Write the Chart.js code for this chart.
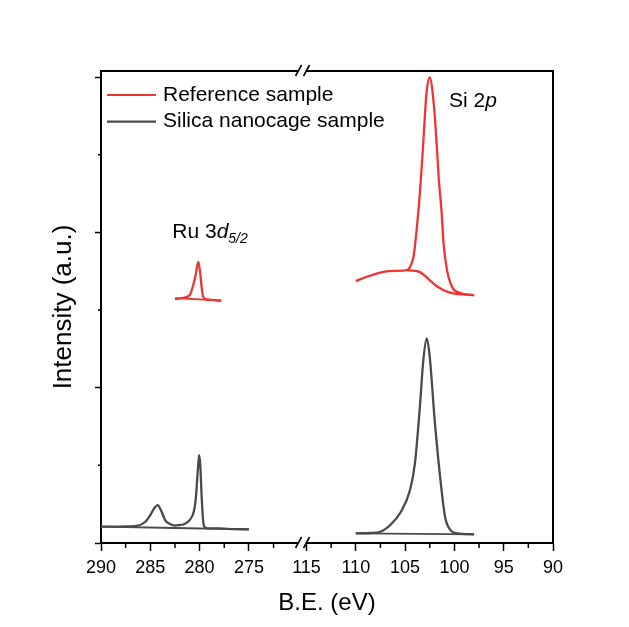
<!DOCTYPE html>
<html>
<head>
<meta charset="utf-8">
<script src="https://cdn.jsdelivr.net/npm/chart.js@4.4.1/dist/chart.umd.min.js"></script>
<style>
  html, body { margin: 0; padding: 0; background: #fff; }
  #wrap { width: 629px; height: 627px; position: relative; }
</style>
</head>
<body>
<div id="wrap"><canvas id="chart"></canvas></div>
<script>
var RED = '#ef3434';
var GREY = '#4a4a4a';
var FONT = '"Liberation Sans", Arial, sans-serif';

// broken B.E. axis: two segments
var leftRange = [269.56, 290];
var rightRange = [90, 115.4];
var leftTicks = [290, 285, 280, 275];
var leftMinor = [287.5, 282.5, 277.5, 272.5];
var rightTicks = [115, 110, 105, 100, 95, 90];
var rightMinor = [112.5, 107.5, 102.5, 97.5, 92.5];
var yTicks = [0, 2, 4, 6];
var yMinor = [1, 3, 5];
var yMax = 6.08;

// Reference sample, Ru 3d region
var refRuBE  = [282.5, 281.8, 281.0, 280.65, 280.37, 280.14, 279.97, 279.8, 279.63, 279.3, 278.5, 277.8];
var refRuInt = [3.142, 3.154, 3.193, 3.322, 3.472, 3.622, 3.515, 3.300, 3.171, 3.138, 3.129, 3.120];
var refRuBgBE  = [282.5, 277.8];
var refRuBgInt = [3.155, 3.124];

// Reference sample, Si 2p region
var refSiBE  = [110.0, 108.9, 107.2, 106.0, 104.8, 104.5, 104.15, 103.8, 103.5, 103.2, 102.96, 102.8, 102.5, 102.1, 101.8, 101.6, 101.3, 101.1, 100.75, 100.4, 100.08, 99.75, 99.0, 98.0];
var refSiInt = [3.373, 3.429, 3.493, 3.506, 3.515, 3.557, 3.686, 4.072, 4.506, 5.060, 5.575, 5.832, 5.996, 5.665, 5.146, 4.716, 4.266, 3.863, 3.515, 3.347, 3.266, 3.235, 3.206, 3.193];
var refSiBgBE  = [104.8, 104.0, 103.5, 103.0, 102.5, 102.0, 101.45, 100.8, 100.1, 98.0];
var refSiBgInt = [3.515, 3.506, 3.489, 3.444, 3.386, 3.328, 3.283, 3.241, 3.215, 3.193];

// Silica nanocage sample, Ru 3d region
var nanoRuBE  = [290.0, 288.5, 287.0, 286.4, 285.5, 285.0, 284.6, 284.26, 283.85, 283.5, 283.0, 282.5, 282.0, 281.65, 281.0, 280.6, 280.4, 280.25, 280.12, 280.04, 279.93, 279.8, 279.65, 279.5, 279.2, 278.0, 276.5, 275.0];
var nanoRuInt = [0.210, 0.210, 0.215, 0.219, 0.274, 0.360, 0.447, 0.489, 0.403, 0.296, 0.245, 0.225, 0.232, 0.238, 0.296, 0.399, 0.554, 0.811, 1.043, 1.133, 1.004, 0.618, 0.296, 0.206, 0.189, 0.187, 0.180, 0.176];
var nanoRuBgBE  = [290.0, 275.0];
var nanoRuBgInt = [0.210, 0.176];

// Silica nanocage sample, Si 2p region
var nanoSiBE  = [110.0, 108.5, 107.5, 106.5, 105.5, 104.5, 104.0, 103.5, 103.15, 102.8, 102.5, 102.0, 101.45, 100.95, 100.4, 99.75, 98.0];
var nanoSiInt = [0.125, 0.129, 0.145, 0.232, 0.386, 0.682, 1.030, 1.755, 2.356, 2.635, 2.399, 1.584, 0.854, 0.339, 0.167, 0.125, 0.112];
var nanoSiBgBE  = [110.0, 98.0];
var nanoSiBgInt = [0.125, 0.112];

function pts(xs, ys) {
  return xs.map(function (x, i) { return { x: x, y: ys[i] }; });
}

function line(label, xs, ys, color, axis, width, key) {
  return {
    label: label,
    data: pts(xs, ys),
    xAxisID: axis,
    yAxisID: 'y',
    borderColor: color,
    borderWidth: width,
    pointRadius: 0,
    fill: false,
    cubicInterpolationMode: 'monotone',
    showKey: key
  };
}

var decor = {
  id: 'decor',
  afterDraw: function (chart) {
    var ctx = chart.ctx;
    var a = chart.chartArea;
    var xL = chart.scales.xL, xR = chart.scales.xR, ys = chart.scales.y;
    ctx.save();

    // top and right frame
    ctx.strokeStyle = '#000';
    ctx.lineWidth = 2;
    ctx.beginPath();
    ctx.moveTo(a.left - 1, a.top);
    ctx.lineTo(a.right, a.top);
    ctx.lineTo(a.right, a.bottom + 1);
    ctx.stroke();

    // minor ticks
    ctx.lineWidth = 1.5;
    ctx.beginPath();
    leftMinor.forEach(function (v) {
      var px = xL.getPixelForValue(v);
      ctx.moveTo(px, a.bottom); ctx.lineTo(px, a.bottom + 5);
    });
    rightMinor.forEach(function (v) {
      var px = xR.getPixelForValue(v);
      ctx.moveTo(px, a.bottom); ctx.lineTo(px, a.bottom + 5);
    });
    yMinor.forEach(function (v) {
      var py = ys.getPixelForValue(v);
      ctx.moveTo(a.left, py); ctx.lineTo(a.left - 3, py);
    });
    ctx.stroke();

    // axis break marks
    var bx = xL.right;
    [a.top, a.bottom].forEach(function (by) {
      ctx.fillStyle = '#fff';
      ctx.fillRect(bx - 4, by - 2, 8, 4);
      ctx.strokeStyle = '#000';
      ctx.lineWidth = 1.6;
      ctx.beginPath();
      ctx.moveTo(bx - 7, by + 5); ctx.lineTo(bx - 1, by - 6);
      ctx.moveTo(bx + 1, by + 5); ctx.lineTo(bx + 7, by - 6);
      ctx.stroke();
    });

    // legend
    var keys = chart.data.datasets.filter(function (d) { return d.showKey; });
    ctx.textBaseline = 'middle';
    ctx.textAlign = 'left';
    ctx.font = '21px ' + FONT;
    keys.forEach(function (d, i) {
      var ly = a.top + 24 + i * 26.7;
      ctx.strokeStyle = d.borderColor;
      ctx.lineWidth = 2.2;
      ctx.beginPath();
      ctx.moveTo(a.left + 6, ly); ctx.lineTo(a.left + 55, ly);
      ctx.stroke();
      ctx.fillStyle = '#000';
      ctx.fillText(d.label, a.left + 62, ly);
    });

    // peak labels
    ctx.textBaseline = 'alphabetic';
    ctx.fillStyle = '#000';
    var rx = xL.getPixelForValue(282.77), ry = ys.getPixelForValue(3.93);
    ctx.font = '21px ' + FONT;
    ctx.fillText('Ru 3', rx, ry);
    rx += ctx.measureText('Ru 3').width;
    ctx.font = 'italic 21px ' + FONT;
    ctx.fillText('d', rx, ry);
    rx += ctx.measureText('d').width;
    ctx.font = 'italic 14px ' + FONT;
    ctx.fillText('5/2', rx, ry + 5);

    var sx = xR.getPixelForValue(100.55), sy = ys.getPixelForValue(5.617);
    ctx.font = '21px ' + FONT;
    ctx.fillText('Si 2', sx, sy);
    sx += ctx.measureText('Si 2').width;
    ctx.font = 'italic 21px ' + FONT;
    ctx.fillText('p', sx, sy);

    // x title
    ctx.font = '24px ' + FONT;
    ctx.textAlign = 'center';
    ctx.fillText('B.E. (eV)', (a.left + a.right) / 2, 610);

    ctx.restore();
  }
};

function xAxis(range, ticks) {
  return {
    type: 'linear',
    position: 'bottom',
    stack: 'be',
    stackWeight: range[1] - range[0],
    reverse: true,
    min: range[0],
    max: range[1],
    afterBuildTicks: function (s) {
      s.ticks = ticks.map(function (v) { return { value: v }; });
    },
    afterFit: function (s) { s.height = 84; },
    grid: { drawOnChartArea: false, drawTicks: true, tickLength: 8, tickColor: '#000', tickWidth: 1.5 },
    border: { display: true, color: '#000', width: 2 },
    ticks: { color: '#000', padding: 6, autoSkip: false, maxRotation: 0, font: { size: 18, family: FONT } }
  };
}

new Chart(document.getElementById('chart'), {
  type: 'line',
  data: {
    datasets: [
      line('Reference sample', refRuBE, refRuInt, RED, 'xL', 2.3, true),
      line('Silica nanocage sample', nanoRuBE, nanoRuInt, GREY, 'xL', 2.3, true),
      line('ref Ru bg', refRuBgBE, refRuBgInt, RED, 'xL', 1.8, false),
      line('nano Ru bg', nanoRuBgBE, nanoRuBgInt, GREY, 'xL', 1.8, false),
      line('ref Si', refSiBE, refSiInt, RED, 'xR', 2.3, false),
      line('ref Si bg', refSiBgBE, refSiBgInt, RED, 'xR', 2.3, false),
      line('nano Si', nanoSiBE, nanoSiInt, GREY, 'xR', 2.3, false),
      line('nano Si bg', nanoSiBgBE, nanoSiBgInt, GREY, 'xR', 1.8, false)
    ]
  },
  options: {
    responsive: true,
    maintainAspectRatio: false,
    animation: false,
    events: [],
    layout: { padding: { top: 71, right: 76, bottom: 0, left: 0 } },
    plugins: { legend: { display: false }, tooltip: { enabled: false } },
    scales: {
      xL: xAxis(leftRange, leftTicks),
      xR: xAxis(rightRange, rightTicks),
      y: {
        type: 'linear',
        position: 'left',
        min: 0,
        max: yMax,
        afterBuildTicks: function (s) {
          s.ticks = yTicks.map(function (v) { return { value: v }; });
        },
        afterFit: function (s) { s.width = 101; },
        grid: { drawOnChartArea: false, drawTicks: true, tickLength: 6, tickColor: '#000', tickWidth: 1.5 },
        border: { display: true, color: '#000', width: 2 },
        ticks: { display: false },
        title: {
          display: true,
          text: 'Intensity (a.u.)',
          color: '#000',
          font: { size: 26, family: FONT },
          padding: { top: 48, bottom: 0 }
        }
      }
    }
  },
  plugins: [decor]
});
</script>
</body>
</html>
